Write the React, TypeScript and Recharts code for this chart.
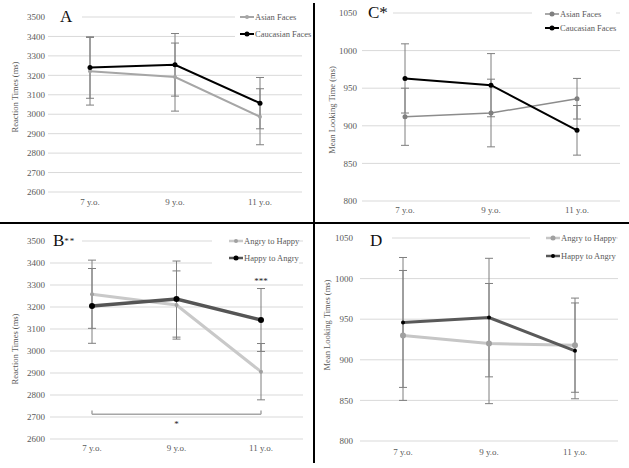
import React from 'react';
import {
  LineChart,
  Line,
  XAxis,
  YAxis,
  CartesianGrid,
  ErrorBar,
  Legend,
  ReferenceLine,
  ReferenceDot
} from 'recharts';

const SERIF = '"Liberation Serif", "Times New Roman", serif';

// categories
const ageGroups = ['7 y.o.', '9 y.o.', '11 y.o.'];

// axis ticks
const rtTicks = [2600, 2700, 2800, 2900, 3000, 3100, 3200, 3300, 3400, 3500];
const lookTicks = [800, 850, 900, 950, 1000, 1050];

// A: reaction times by face race
const asianRT = [3221, 3191, 2987];
const asianRTErr = [174, 175, 144];
const caucRT = [3240, 3254, 3057];
const caucRTErr = [158, 161, 132];

// C: looking times by face race
const asianLook = [912, 917, 936];
const asianLookErr = [38, 45, 27];
const caucLook = [963, 954, 894];
const caucLookErr = [46, 42, 33];

// B: reaction times by emotion direction
const a2hRT = [3258, 3209, 2906];
const a2hRTErr = [155, 155, 128];
const h2aRT = [3205, 3236, 3141];
const h2aRTErr = [170, 173, 143];

// D: looking times by emotion direction
const a2hLook = [930, 920, 918];
const a2hLookErr = [80, 74, 58];
const h2aLook = [946, 952, 911];
const h2aLookErr = [80, 73, 59];

// significance annotations in B
const bracketValue = 2712;
const bracketTop = 2730;
const starValue = 2668;
const tripleStarValue = 3318;

const buildRows = (cols: Record<string, number[]>) =>
  ageGroups.map((age, i) => {
    const row: any = { age };
    Object.keys(cols).forEach((k) => {
      row[k] = cols[k][i];
    });
    return row;
  });

interface Series {
  key: string;
  err: string;
  name: string;
  stroke: string;
  strokeWidth: number;
  dotR: number;
  dotFill: string;
}

interface PanelProps {
  left: number;
  top: number;
  width: number;
  height: number;
  margin: { top: number; right: number; left: number; bottom: number };
  yWidth: number;
  yTickMargin: number;
  xHeight: number;
  xTickMargin: number;
  xPad: number;
  domain: [number, number];
  ticks: number[];
  data: any[];
  series: Series[];
  yTitle: string;
  yTitlePos: [number, number];
  legendPos: { left: number; top: number; padLeft: number; rowH: number };
  letter: React.ReactNode;
  letterBox: { left: number; top: number; width: number; padLeft: number };
  extras?: React.ReactNode;
}

const makeLegend = (series: Series[], rowH: number, padLeft: number) => () => (
  <div style={{ background: '#fff', paddingLeft: padLeft, fontFamily: SERIF, fontSize: 8.5, color: '#595959' }}>
    {series.map((s) => (
      <div key={s.key} style={{ display: 'flex', alignItems: 'center', height: rowH, whiteSpace: 'nowrap' }}>
        <svg width={14} height={8} style={{ display: 'block' }}>
          <line x1={0} y1={4} x2={14} y2={4} stroke={s.stroke} strokeWidth={Math.min(s.strokeWidth, 2.5)} />
          <circle cx={7} cy={4} r={Math.min(s.dotR, 2.5)} fill={s.dotFill} />
        </svg>
        <span style={{ marginLeft: 1 }}>{s.name}</span>
      </div>
    ))}
  </div>
);

const Panel: React.FC<PanelProps> = (p) => (
  <div style={{ position: 'absolute', left: p.left, top: p.top, width: p.width, height: p.height }}>
    <LineChart width={p.width} height={p.height} data={p.data} margin={p.margin}>
      <CartesianGrid vertical={false} stroke="#d9d9d9" strokeWidth={1} />
      <XAxis
        dataKey="age"
        axisLine={false}
        tickLine={false}
        tickSize={0}
        tickMargin={p.xTickMargin}
        height={p.xHeight}
        padding={{ left: p.xPad, right: p.xPad }}
        tick={{ fill: '#595959', fontSize: 9, fontFamily: SERIF }}
      />
      <YAxis
        domain={p.domain}
        ticks={p.ticks}
        interval={0}
        axisLine={false}
        tickLine={false}
        tickSize={0}
        tickMargin={p.yTickMargin}
        width={p.yWidth}
        tick={{ fill: '#595959', fontSize: 9, fontFamily: SERIF }}
      />
      {p.extras}
      {p.series.map((s) => (
        <Line
          key={s.key}
          dataKey={s.key}
          name={s.name}
          type="linear"
          stroke={s.stroke}
          strokeWidth={s.strokeWidth}
          dot={{ r: s.dotR, fill: s.dotFill, stroke: s.dotFill, strokeWidth: 0 }}
          activeDot={false}
          isAnimationActive={false}
        >
          <ErrorBar dataKey={s.err} width={4} stroke="#7f7f7f" strokeWidth={1} direction="y" />
        </Line>
      ))}
      <Legend
        layout="vertical"
        align="center"
        verticalAlign="middle"
        content={makeLegend(p.series, p.legendPos.rowH, p.legendPos.padLeft)}
        wrapperStyle={{ left: p.legendPos.left, top: p.legendPos.top, width: 'auto' }}
      />
    </LineChart>
    <div
      style={{
        position: 'absolute',
        left: p.letterBox.left,
        top: p.letterBox.top,
        width: p.letterBox.width,
        paddingLeft: p.letterBox.padLeft,
        boxSizing: 'border-box',
        background: '#fff',
        fontFamily: SERIF,
        fontSize: 17,
        lineHeight: '18px',
        color: '#111'
      }}
    >
      {p.letter}
    </div>
    <div
      style={{
        position: 'absolute',
        left: p.yTitlePos[0],
        top: p.yTitlePos[1],
        transform: 'translate(-50%, -50%) rotate(-90deg)',
        whiteSpace: 'nowrap',
        fontFamily: SERIF,
        fontSize: 8.5,
        color: '#595959'
      }}
    >
      {p.yTitle}
    </div>
  </div>
);

const dataA = buildRows({ asian: asianRT, asianErr: asianRTErr, cauc: caucRT, caucErr: caucRTErr });
const dataC = buildRows({ asian: asianLook, asianErr: asianLookErr, cauc: caucLook, caucErr: caucLookErr });
const dataB = buildRows({ a2h: a2hRT, a2hErr: a2hRTErr, h2a: h2aRT, h2aErr: h2aRTErr });
const dataD = buildRows({ a2h: a2hLook, a2hErr: a2hLookErr, h2a: h2aLook, h2aErr: h2aLookErr });

const seriesA: Series[] = [
  { key: 'asian', err: 'asianErr', name: 'Asian Faces', stroke: '#a6a6a6', strokeWidth: 2, dotR: 2, dotFill: '#a6a6a6' },
  { key: 'cauc', err: 'caucErr', name: 'Caucasian Faces', stroke: '#000', strokeWidth: 2, dotR: 2.5, dotFill: '#000' }
];
const seriesC: Series[] = [
  { key: 'asian', err: 'asianErr', name: 'Asian Faces', stroke: '#8c8c8c', strokeWidth: 1.5, dotR: 2.5, dotFill: '#7f7f7f' },
  { key: 'cauc', err: 'caucErr', name: 'Caucasian Faces', stroke: '#000', strokeWidth: 2, dotR: 2.5, dotFill: '#000' }
];
const seriesB: Series[] = [
  { key: 'a2h', err: 'a2hErr', name: 'Angry to Happy', stroke: '#c9c9c9', strokeWidth: 3, dotR: 2, dotFill: '#a0a0a0' },
  { key: 'h2a', err: 'h2aErr', name: 'Happy to Angry', stroke: '#555', strokeWidth: 3.5, dotR: 3, dotFill: '#000' }
];
const seriesD: Series[] = [
  { key: 'a2h', err: 'a2hErr', name: 'Angry to Happy', stroke: '#c6c6c6', strokeWidth: 3, dotR: 3, dotFill: '#a0a0a0' },
  { key: 'h2a', err: 'h2aErr', name: 'Happy to Angry', stroke: '#595959', strokeWidth: 3, dotR: 2, dotFill: '#000' }
];

const annotationsB = (
  <>
    <ReferenceLine
      segment={[{ x: '7 y.o.', y: bracketValue }, { x: '11 y.o.', y: bracketValue }]}
      stroke="#a6a6a6"
      strokeWidth={1.5}
    />
    <ReferenceLine
      segment={[{ x: '7 y.o.', y: bracketValue }, { x: '7 y.o.', y: bracketTop }]}
      stroke="#a6a6a6"
      strokeWidth={1.5}
    />
    <ReferenceLine
      segment={[{ x: '11 y.o.', y: bracketValue }, { x: '11 y.o.', y: bracketTop }]}
      stroke="#a6a6a6"
      strokeWidth={1.5}
    />
    <ReferenceDot
      x="9 y.o."
      y={starValue}
      r={1}
      fill="none"
      stroke="none"
      label={{ value: '*', position: 'center', fill: '#222', fontSize: 9, fontFamily: SERIF }}
    />
    <ReferenceDot
      x="11 y.o."
      y={tripleStarValue}
      r={1}
      fill="none"
      stroke="none"
      label={{ value: '***', position: 'center', fill: '#222', fontSize: 9, fontFamily: SERIF }}
    />
  </>
);

const App: React.FC = () => (
  <div style={{ position: 'absolute', left: 0, top: 0, width: 629, height: 468, background: '#fff', overflow: 'hidden' }}>
    <Panel
      left={0}
      top={0}
      width={313}
      height={222}
      margin={{ top: 17, right: 11, left: 0, bottom: 0 }}
      yWidth={48}
      yTickMargin={3}
      xHeight={30}
      xTickMargin={7}
      xPad={42}
      domain={[2600, 3500]}
      ticks={rtTicks}
      data={dataA}
      series={seriesA}
      yTitle="Reaction Times (ms)"
      yTitlePos={[15, 97]}
      legendPos={{ left: 235, top: 9, padLeft: 5, rowH: 16.6 }}
      letter="A"
      letterBox={{ left: 48, top: 8, width: 34, padLeft: 12 }}
    />
    <Panel
      left={315}
      top={0}
      width={314}
      height={222}
      margin={{ top: 13, right: 9, left: 0, bottom: 0 }}
      yWidth={47}
      yTickMargin={5}
      xHeight={21}
      xTickMargin={6}
      xPad={43}
      domain={[800, 1050]}
      ticks={lookTicks}
      data={dataC}
      series={seriesC}
      yTitle="Mean Looking Time (ms)"
      yTitlePos={[17, 110]}
      legendPos={{ left: 217, top: 7, padLeft: 13, rowH: 13.7 }}
      letter="C*"
      letterBox={{ left: 47, top: 4, width: 31, padLeft: 6 }}
    />
    <Panel
      left={0}
      top={225}
      width={313}
      height={243}
      margin={{ top: 16, right: 10, left: 0, bottom: 0 }}
      yWidth={50}
      yTickMargin={5}
      xHeight={29}
      xTickMargin={6}
      xPad={42}
      domain={[2600, 3500]}
      ticks={rtTicks}
      data={dataB}
      series={seriesB}
      yTitle="Reaction Times (ms)"
      yTitlePos={[15, 124]}
      legendPos={{ left: 212, top: 7.5, padLeft: 17, rowH: 17 }}
      letter={
        <span>
          B<span style={{ fontSize: 9, verticalAlign: 'top', letterSpacing: 1 }}>**</span>
        </span>
      }
      letterBox={{ left: 50, top: 7, width: 32, padLeft: 3 }}
      extras={annotationsB}
    />
    <Panel
      left={315}
      top={225}
      width={314}
      height={243}
      margin={{ top: 13, right: 11, left: 0, bottom: 0 }}
      yWidth={45}
      yTickMargin={7}
      xHeight={27}
      xTickMargin={8}
      xPad={43}
      domain={[800, 1050]}
      ticks={lookTicks}
      data={dataD}
      series={seriesD}
      yTitle="Mean Looking Times (ms)"
      yTitlePos={[12, 100]}
      legendPos={{ left: 215, top: 4, padLeft: 16, rowH: 18 }}
      letter="D"
      letterBox={{ left: 45, top: 7, width: 32, padLeft: 10 }}
    />
    <div style={{ position: 'absolute', left: 0, top: 222, width: 629, height: 2, background: '#000' }} />
    <div style={{ position: 'absolute', left: 313, top: 3, width: 2, height: 460, background: '#000' }} />
  </div>
);

export default App;
